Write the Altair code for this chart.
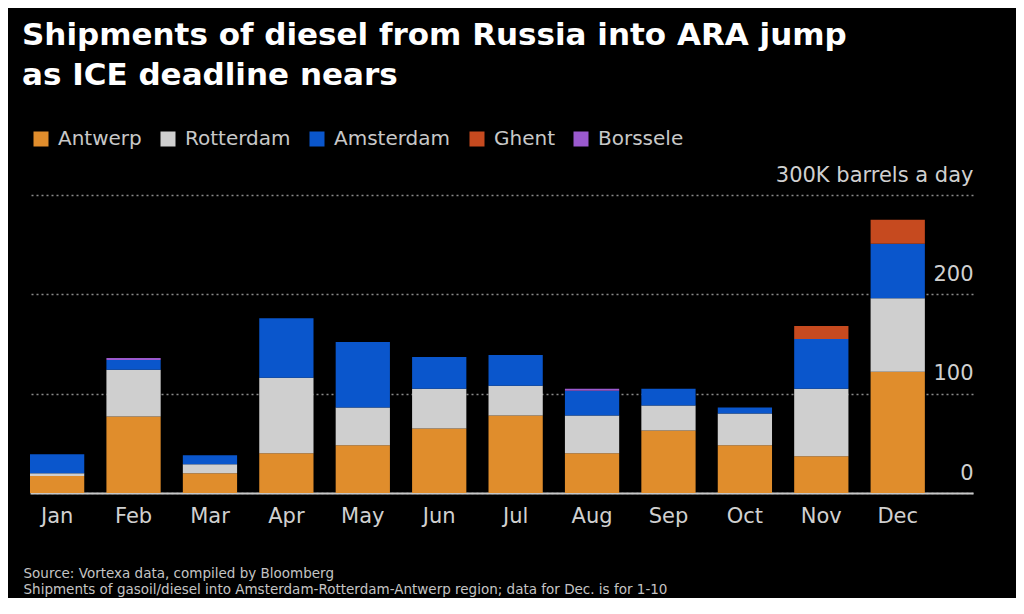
import altair as alt
import pandas as pd

months = ["Jan", "Feb", "Mar", "Apr", "May", "Jun", "Jul", "Aug", "Sep", "Oct", "Nov", "Dec"]
ports = ["Antwerp", "Rotterdam", "Amsterdam", "Ghent", "Borssele"]
antwerp = [17, 77, 20, 40, 48, 65, 78, 40, 63, 48, 37, 122]
rotterdam = [3, 47, 9, 76, 38, 40, 30, 38, 25, 32, 68, 74]
amsterdam = [19, 10, 9, 60, 66, 32, 31, 25, 17, 6, 50, 55]
ghent = [0, 0, 0, 0, 0, 0, 0, 0, 0, 0, 13, 24]
borssele = [0, 2, 0, 0, 0, 0, 0, 2, 0, 0, 0, 0]
colors = ["#E08D2C", "#CFCFCF", "#0A56CC", "#C64A1F", "#9B5ACF"]
y_ticks = [0, 100, 200, 300]

title_lines = ["Shipments of diesel from Russia into ARA jump", "as ICE deadline nears"]
footer_lines = [
    "Source: Vortexa data, compiled by Bloomberg",
    "Shipments of gasoil/diesel into Amsterdam-Rotterdam-Antwerp region; data for Dec. is for 1-10",
]

series = [antwerp, rotterdam, amsterdam, ghent, borssele]
rows = []
for i, (port, vals) in enumerate(zip(ports, series)):
    for m, v in zip(months, vals):
        rows.append({"month": m, "port": port, "value": v, "idx": i})
df = pd.DataFrame(rows)

chart = (
    alt.Chart(df)
    .mark_bar()
    .encode(
        x=alt.X(
            "month:N",
            scale=alt.Scale(domain=months, paddingInner=0.29, paddingOuter=0.315, align=0),
            axis=alt.Axis(
                title=footer_lines,
                labelAngle=0,
                labelFont="DejaVu Sans",
                labelFontSize=21,
                labelColor="#d0d0d0",
                labelPadding=12,
                ticks=False,
                domainColor="#c8c8c8",
                domainWidth=2,
                grid=False,
                titleFont="DejaVu Sans",
                titleFontSize=13.5,
                titleFontWeight="normal",
                titleColor="#c4c4c4",
                titleAlign="left",
                titleBaseline="alphabetic",
                titleAnchor="start",
                titleX=-7,
                titleY=84,
                titleLineHeight=16,
            ),
        ),
        y=alt.Y(
            "value:Q",
            stack="zero",
            scale=alt.Scale(domain=[0, 300], nice=False),
            axis=alt.Axis(
                title=None,
                orient="right",
                values=y_ticks,
                labelExpr="datum.value == 300 ? '300K barrels a day' : datum.label",
                labelAlign="right",
                labelBaseline="alphabetic",
                labelOffset=-14,
                labelPadding=0,
                labelLimit=400,
                labelFont="DejaVu Sans",
                labelFontSize=21,
                labelColor="#d0d0d0",
                ticks=False,
                tickSize=0,
                domain=False,
                grid=True,
                gridDash=[2, 3],
                gridColor="#8a8a8a",
                gridWidth=1.5,
            ),
        ),
        color=alt.Color(
            "port:N",
            scale=alt.Scale(domain=ports, range=colors),
            legend=alt.Legend(
                title=None,
                orient="none",
                legendX=1,
                legendY=-66,
                direction="horizontal",
                symbolType="square",
                symbolSize=225,
                symbolStrokeWidth=0,
                symbolOpacity=1,
                labelFont="DejaVu Sans",
                labelFontSize=20,
                labelColor="#c8c8c8",
                labelOffset=7,
                columnPadding=16,
            ),
        ),
        order=alt.Order("idx:Q", sort="ascending"),
    )
    .properties(
        width=943,
        height=298,
        background="#000000",
        padding={"left": 22, "top": 187, "right": 43, "bottom": 105},
        autosize="none",
        title=alt.TitleParams(
            text=title_lines,
            font="DejaVu Sans",
            fontSize=31,
            fontWeight="bold",
            color="#ffffff",
            anchor="start",
            frame="group",
            dx=-8,
            lineHeight=40,
            offset=37,
        ),
    )
    .configure_view(strokeWidth=0)
)

chart.save("out.html", embed_options={"renderer": "svg", "actions": False})
